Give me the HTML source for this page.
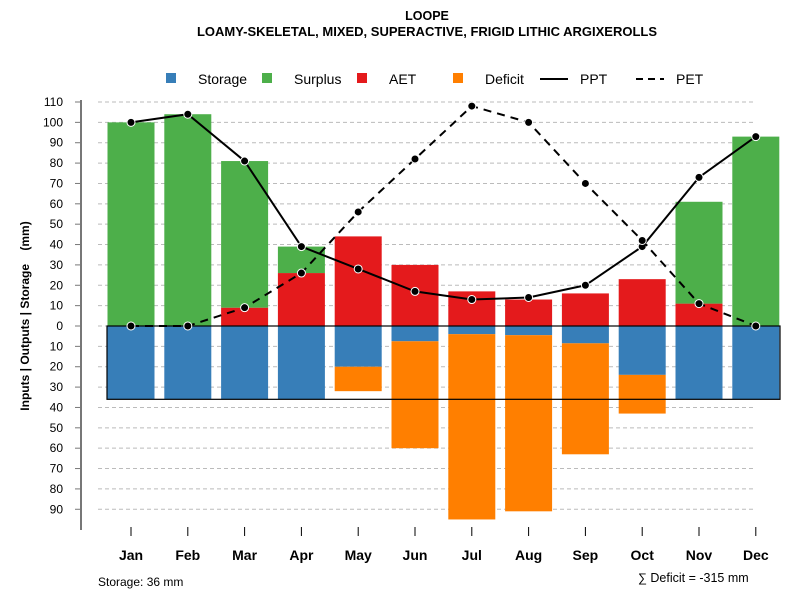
<!DOCTYPE html>
<html><head><meta charset="utf-8"><style>
body{margin:0;background:#fff;font-family:"Liberation Sans",Arial,sans-serif}
</style></head><body>
<svg id="c" width="800" height="600" xmlns="http://www.w3.org/2000/svg" font-family="Liberation Sans, Arial, sans-serif">
<text x="427" y="20" text-anchor="middle" font-size="12.5" font-weight="bold">LOOPE</text>
<text x="427" y="36" text-anchor="middle" font-size="13" font-weight="bold">LOAMY-SKELETAL, MIXED, SUPERACTIVE, FRIGID LITHIC ARGIXEROLLS</text>
<g>
<rect x="166" y="73" width="10" height="10" fill="#377eb8"/><text x="198" y="84" font-size="14">Storage</text>
<rect x="262" y="73" width="10" height="10" fill="#4daf4a"/><text x="294" y="84" font-size="14">Surplus</text>
<rect x="357" y="73" width="10" height="10" fill="#e41a1c"/><text x="389" y="84" font-size="14">AET</text>
<rect x="453" y="73" width="10" height="10" fill="#ff7f00"/><text x="485" y="84" font-size="14">Deficit</text>
<line x1="540" y1="79" x2="568" y2="79" stroke="#000" stroke-width="2"/><text x="580" y="84" font-size="14">PPT</text>
<line x1="636" y1="79" x2="664" y2="79" stroke="#000" stroke-width="2" stroke-dasharray="7,5"/><text x="676" y="84" font-size="14">PET</text>
</g>
<text transform="translate(29,316) rotate(-90)" text-anchor="middle" font-size="12" font-weight="bold" style="white-space:pre">Inputs | Outputs | Storage    (mm)</text>
<g id="grid"></g><g id="bars"></g><g id="lines"></g><g id="axes"></g>
<text x="98" y="586" font-size="12">Storage: 36 mm</text>
<text x="638" y="582" font-size="12.5">∑ Deficit = -315 mm</text>
</svg>
<script>
const months=["Jan","Feb","Mar","Apr","May","Jun","Jul","Aug","Sep","Oct","Nov","Dec"];
const storage=[36,36,36,36,20,7.5,4,4.5,8.5,24,36,36];
const deficit=[0,0,0,0,12,52.5,91,86.5,54.5,19,0,0];
const aet=[0,0,9,26,44,30,17,13,16,23,11,0];
const surplus=[100,104,72,13,0,0,0,0,0,0,50,93];
const ppt=[100,104,81,39,28,17,13,14,20,39,73,93];
const pet=[0,0,9,26,56,82,108,100,70,42,11,0];
const ticksUp=[0,10,20,30,40,50,60,70,80,90,100,110];
const ticksDown=[10,20,30,40,50,60,70,80,90];
const awc=36;
const NS="http://www.w3.org/2000/svg";
const y=v=>326-v*2.0364;
const x=i=>131+i*56.8;
const BW=47;
function mk(t,a,p){const e=document.createElementNS(NS,t);for(const k in a)e.setAttribute(k,a[k]);p.appendChild(e);return e;}
const G=document.getElementById('grid'),B=document.getElementById('bars'),L=document.getElementById('lines'),A=document.getElementById('axes');
const allT=ticksUp.map(v=>[v,String(v)]).concat(ticksDown.map(v=>[-v,String(v)]));
allT.forEach(([v,l])=>{
 const g=mk('line',{x1:98,x2:756,y1:y(v),y2:y(v),stroke:'#bbb','stroke-dasharray':'4,3'},G);
 
 
 mk('line',{x1:75,x2:81,y1:y(v),y2:y(v),stroke:'#777'},A);
 const t=mk('text',{x:63,y:y(v)+4,'text-anchor':'end','font-size':12},A);t.textContent=l;
 
 
});
const ax=mk('line',{x1:81,x2:81,y1:y(110)-2,y2:530,stroke:'#777','stroke-width':2},A);


months.forEach((m,i)=>{
 const cx=x(i),x0=cx-BW/2;
 const r1=mk('rect',{x:x0,y:y(0),width:BW,height:y(-storage[i])-y(0),fill:'#377eb8'},B);
 
 
 if(deficit[i]>0){const r=mk('rect',{x:x0,y:y(-storage[i]),width:BW,height:y(-storage[i]-deficit[i])-y(-storage[i]),fill:'#ff7f00'},B);
 
 }
 if(aet[i]>0){const r=mk('rect',{x:x0,y:y(aet[i]),width:BW,height:y(0)-y(aet[i]),fill:'#e41a1c'},B);
 
 }
 if(surplus[i]>0){const r=mk('rect',{x:x0,y:y(aet[i]+surplus[i]),width:BW,height:y(aet[i])-y(aet[i]+surplus[i]),fill:'#4daf4a'},B);
 
 }
 mk('line',{x1:cx,x2:cx,y1:527,y2:536,stroke:'#000'},A);
 const t=mk('text',{x:cx,y:560,'text-anchor':'middle','font-size':14,'font-weight':'bold'},A);t.textContent=m;
 
 
});
const box=mk('rect',{x:107,y:y(0),width:673,height:y(-awc)-y(0),fill:'none',stroke:'#000','stroke-width':1.2},B);


function series(arr,name,dash){
 const pts=arr.map((v,i)=>x(i)+','+y(v)).join(' ');
 const p=mk('polyline',{points:pts,fill:'none',stroke:'#000','stroke-width':2},L);
 if(dash)p.setAttribute('stroke-dasharray','8,6');
 
 
 arr.forEach((v,i)=>{const c=mk('circle',{cx:x(i),cy:y(v),r:4,fill:'#000',stroke:'#fff','stroke-width':1},L);
 
 });
}
series(ppt,'ppt',false);
series(pet,'pet',true);
</script>
</body></html>
